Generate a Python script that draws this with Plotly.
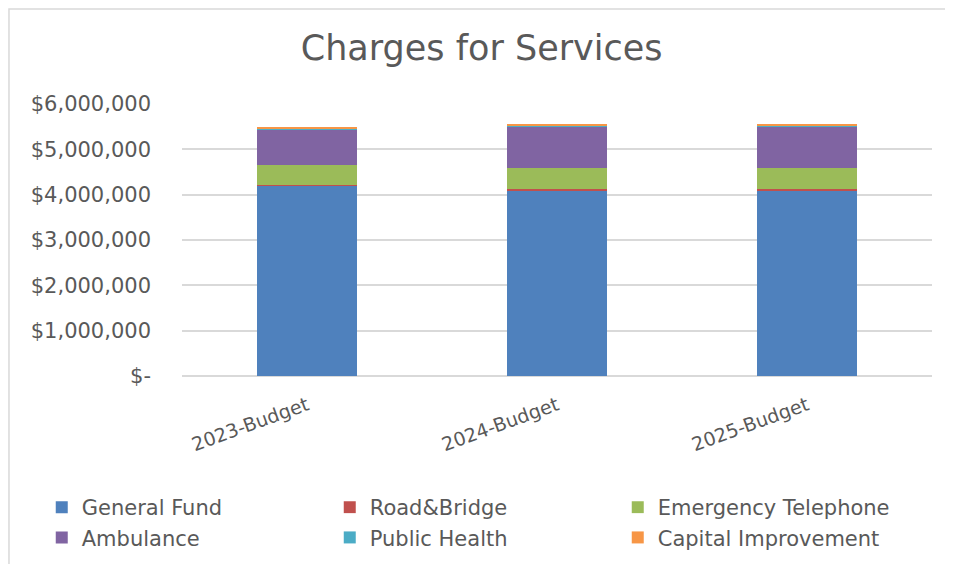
import plotly.graph_objects as go

categories = ["2023-Budget", "2024-Budget", "2025-Budget"]
general_fund = [4210000, 4100000, 4100000]
road_bridge = [12000, 18000, 18000]
emergency_telephone = [430000, 470000, 470000]
ambulance = [790000, 920000, 920000]
public_health = [10000, 12000, 12000]
capital_improvement = [30000, 35000, 45000]
y_tickvals = [0, 1000000, 2000000, 3000000, 4000000, 5000000, 6000000]
y_ticktext = ["$-", "$1,000,000", "$2,000,000", "$3,000,000",
              "$4,000,000", "$5,000,000", "$6,000,000"]

series = [
    ("General Fund", general_fund, "#4F81BD"),
    ("Road&Bridge", road_bridge, "#C0504D"),
    ("Emergency Telephone", emergency_telephone, "#9BBB59"),
    ("Ambulance", ambulance, "#8064A2"),
    ("Public Health", public_health, "#4BACC6"),
    ("Capital Improvement", capital_improvement, "#F79646"),
]

FONT = "DejaVu Sans"
GREY = "#595959"

fig = go.Figure()
for name, vals, color in series:
    fig.add_trace(go.Bar(
        name=name, x=categories, y=vals,
        marker=dict(color=color, line=dict(width=0)),
    ))

fig.update_layout(
    barmode="stack",
    bargap=0.6,
    width=953, height=564,
    margin=dict(l=174, r=29, t=96, b=196, autoexpand=False),
    paper_bgcolor="white",
    plot_bgcolor="white",
    font=dict(family=FONT, color=GREY, size=20),
    title=dict(
        text="Charges for Services",
        x=0.497, xanchor="center", y=0.929, yanchor="middle",
        font=dict(family=FONT, size=35, color=GREY),
    ),
    xaxis=dict(
        tickangle=-20,
        tickfont=dict(size=19, color=GREY),
        showline=False, ticks="",
        showgrid=False,
        ticklabelstandoff=14,
    ),
    yaxis=dict(
        range=[0, 6000000],
        tickvals=y_tickvals,
        ticktext=y_ticktext,
        showgrid=True, gridcolor="#D9D9D9", gridwidth=1.5,
        zeroline=True, zerolinecolor="#D9D9D9", zerolinewidth=1.5,
        ticks="", ticklabelstandoff=30,
        tickfont=dict(size=21, color=GREY),
    ),
    legend=dict(
        orientation="h",
        x=-0.187, xanchor="left",
        y=-0.408, yanchor="top",
        entrywidth=243, entrywidthmode="pixels",
        font=dict(size=21, color=GREY),
        itemwidth=30,
        traceorder="normal",
        tracegroupgap=0,
    ),
    shapes=[dict(
        type="rect", xref="paper", yref="paper",
        x0=-0.2307, x1=1.2, y0=-1.5, y1=1.349,
        line=dict(color="#D9D9D9", width=1.5),
    )],
)

fig.write_html("out.html")
